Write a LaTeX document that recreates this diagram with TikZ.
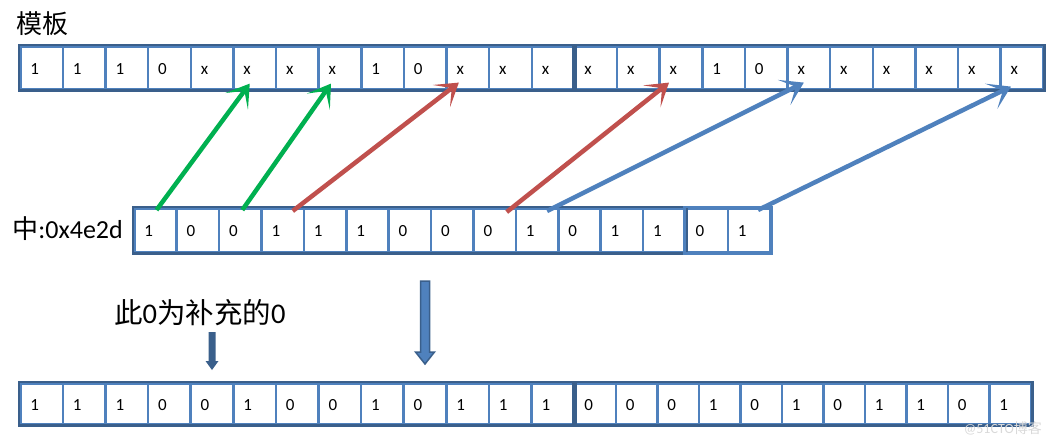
\documentclass[tikz,border=0pt]{standalone}
\usepackage{fontspec}
\setmainfont{Carlito}
\newfontfamily\cjk{Noto Sans CJK SC}
\usetikzlibrary{arrows.meta,calc}
\definecolor{cellblue}{HTML}{4F81BD}
\definecolor{darkblue}{HTML}{3A5F8B}
\definecolor{agreen}{HTML}{00B050}
\definecolor{ared}{HTML}{C0504D}
\definecolor{ablue}{HTML}{4F81BD}
\begin{document}
\begin{tikzpicture}[x=1pt,y=-1pt,
  cell/.style n args={2}{draw=cellblue, line width=2.6pt, inner xsep=10pt, inner ysep=0pt,
    text width=#1, align=left, minimum height=#2, text height=13pt, text depth=0pt,
    font=\fontsize{17}{17}\selectfont, anchor=north west},
  outer/.style={draw=darkblue, line width=2.8pt},
  outerlight/.style={draw=cellblue, line width=2.6pt},
  conn/.style={line width=4.5pt, -{Stealth[length=22pt,width=28pt,inset=13pt]}},
  greenarrow/.style={conn, draw=agreen},
  redarrow/.style={conn, draw=ared},
  bluearrow/.style={conn, draw=ablue},
  biglabel/.style={font=\fontsize{26}{26}\selectfont, inner sep=0pt}
]
\useasboundingbox (0,0) rectangle (1057,444);

% top row (template)
\foreach \v [count=\i from 0] in {1,1,1,0,x,x,x,x,1,0,x,x,x,x,x,x,1,0,x,x,x,x,x,x}{
  \node[cell={22.625pt}{43pt}] (t\i) at ({19+42.625*\i},45) {\v};
}
\draw[outer] (t0.north west) rectangle (t12.south east);
\draw[outer] (t13.north west) rectangle (t23.south east);

% middle row
\foreach \v [count=\i from 0] in {1,0,0,1,1,1,0,0,0,1,0,1,1,0,1}{
  \node[cell={22.4pt}{44pt}] (m\i) at ({133+42.4*\i},207) {\v};
}
\draw[outer] (m0.north west) rectangle (m12.south east);
\draw[outerlight] (m13.north west) rectangle (m14.south east);

% bottom row
\foreach \v [count=\i from 0] in {1,1,1,0,0,1,0,0,1,0,1,1,1}{
  \node[cell={22.6pt}{41pt}] (b\i) at ({19+42.6*\i},382) {\v};
}
\foreach \v [count=\i from 13] in {0,0,0,1,0,1,0,1,1,0,1}{
  \node[cell={21.5pt}{41pt}] (b\i) at ({573+41.5*(\i-13)},382) {\v};
}
\draw[outer] (b0.north west) rectangle (b12.south east);
\draw[outer] (b13.north west) rectangle (b23.south east);

% labels
\node[biglabel, anchor=west] (lbl) at (16,24) {\cjk 模板};
\node[biglabel, anchor=east] (zh) at (123,229) {{\cjk 中}:0x4e2d};
\node[biglabel, font=\fontsize{28.5}{28.5}\selectfont, anchor=west] (note) at (114,313) {{\cjk 此}0{\cjk 为补充的}0};
\node[font=\fontsize{14}{14}\selectfont, text=gray!30, anchor=east, inner sep=0pt] (wm) at (1042,428) {@51CTO{\cjk 博客}};

% connectors
\draw[greenarrow] ($(m0.north)+(1,3)$) -- ($(t5.south)+(-5,-7)$);
\draw[greenarrow] ($(m2.north)+(2,3)$) -- ($(t7.south)+(-9,-7)$);
\draw[redarrow] ($(m3.north)+(10,4)$) -- ($(t10.south)+(-9,-8)$);
\draw[redarrow] ($(m8.north)+(12,5)$) -- ($(t15.south)+(-12,-8)$);
\draw[bluearrow] ($(m9.north)+(10,4)$) -- ($(t18.south)+(-5,-8)$);
\draw[bluearrow] ($(m14.north)+(9,3)$) -- ($(t23.south)+(-11,-4)$);

% down arrows
\fill[darkblue] (208.5,332) -- (215.5,332) -- (215.5,361) -- (218.5,361) -- (212,370) -- (205.5,361) -- (208.5,361) -- cycle;
\filldraw[fill=cellblue, draw=darkblue, line width=1.5pt] (420.5,281) -- (429.5,281) -- (429.5,352) -- (434.5,352) -- (425,364) -- (415.5,352) -- (420.5,352) -- cycle;
\end{tikzpicture}
\end{document}
